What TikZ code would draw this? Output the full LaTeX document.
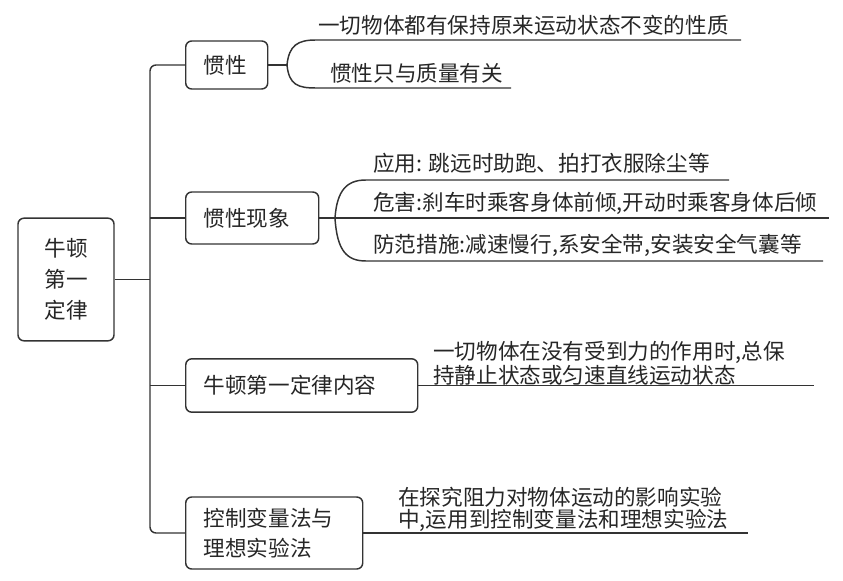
\documentclass[tikz,border=0pt]{standalone}
\usepackage{fontspec}
\setmainfont{Noto Sans CJK SC}
\begin{document}
\begin{tikzpicture}[x=0.75pt,y=-0.75pt,
  line/.style={draw=black!80,line width=1.1pt},
  box/.style={draw=black!80,line width=1.1pt,rounded corners=4.5pt,inner xsep=13.5pt,inner ysep=0pt,align=left,anchor=west,text=black!85},
  leaf/.style={inner sep=0pt,anchor=west,text=black!85,align=left},
  every node/.style={font=\fontsize{16.2pt}{19pt}\selectfont}]
\useasboundingbox (0,0) rectangle (843,581);

% root
\node[draw=black!80,line width=1.1pt,rounded corners=4.5pt,minimum width=72pt,minimum height=92pt,align=center,text=black!85,
      font=\fontsize{16.2pt}{23.3pt}\selectfont] (root) at (66,279.5) {牛顿\\第一\\定律};

% branch boxes
\node[box,text width=34.5pt,minimum height=36pt] (b1) at (185,65) {惯性};
\node[box,text width=72.75pt,minimum height=39pt] (b2) at (185,218) {惯性现象};
\node[box,text width=147pt,minimum height=40pt] (b3) at (185,385.5) {牛顿第一定律内容};
\node[box,text width=105.75pt,minimum height=54pt,font=\fontsize{16.2pt}{22.5pt}\selectfont] (b4) at (185,533) {控制变量法与\\理想实验法};

% trunk
\coordinate (tk) at (150,0);
\draw[line,rounded corners=4.5pt] (b1.west) -- (b1.west -| tk) -- (b4.west -| tk) -- (b4.west);
\draw[line] (b2.west -| tk) -- (b2.west);
\draw[line] (b3.west -| tk) -- (b3.west);
\draw[line] (root.east) -- (root.east -| tk);

% branch 1
\coordinate (j1) at (287,65);
\coordinate (e1a) at (741,40);
\coordinate (e1b) at (511,88);
\draw[line] (b1.east) -- (j1);
\draw[line] (j1) .. controls (289,45) and (298,40) .. (316,40) -- (e1a);
\draw[line] (j1) .. controls (289,85) and (298,88) .. (316,88) -- (e1b);
\node[leaf] (l1a) at (318,25) {一切物体都有保持原来运动状态不变的性质};
\node[leaf] (l1b) at (330,73) {惯性只与质量有关};

% branch 2
\coordinate (j2) at (335,218);
\coordinate (e2a) at (729,180);
\coordinate (e2b) at (829,218);
\coordinate (e2c) at (823,261);
\draw[line] (b2.east) -- (e2b);
\draw[line] (j2) .. controls (337,190) and (347,180) .. (366,180) -- (e2a);
\draw[line] (j2) .. controls (337,251) and (347,261) .. (366,261) -- (e2c);
\node[leaf] (l2a) at (373,163) {应用: 跳远时助跑、拍打衣服除尘等};
\node[leaf] (l2b) at (373,203) {危害:刹车时乘客身体前倾,开动时乘客身体后倾};
\node[leaf] (l2c) at (373,245) {防范措施:减速慢行,系安全带,安装安全气囊等};

% branch 3
\coordinate (e3) at (814,385.5);
\draw[line] (b3.east) -- (e3);
\node[leaf,font=\fontsize{16.2pt}{15pt}\selectfont] (l3) at (433,363) {一切物体在没有受到力的作用时,总保\\持静止状态或匀速直线运动状态};

% branch 4
\coordinate (e4) at (748,533);
\draw[line] (b4.east) -- (e4);
\node[leaf,font=\fontsize{16.2pt}{16.5pt}\selectfont] (l4) at (398,509) {在探究阻力对物体运动的影响实验\\中,运用到控制变量法和理想实验法};
\end{tikzpicture}
\end{document}
